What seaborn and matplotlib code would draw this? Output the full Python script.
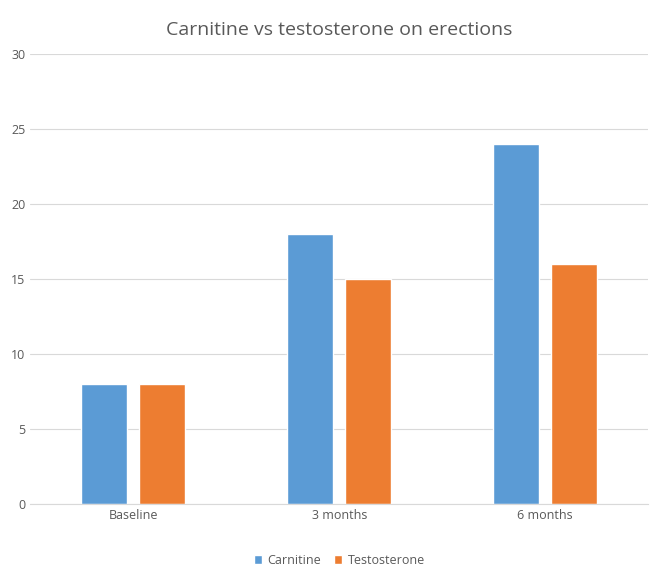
import matplotlib
matplotlib.use("Agg")
import matplotlib.pyplot as plt
import seaborn as sns
import pandas as pd

categories = ["Baseline", "3 months", "6 months"]
carnitine = [8, 18, 24]
testosterone = [8, 15, 16]
series = ["Carnitine", "Testosterone"]
colors = ["#5B9BD5", "#ED7D31"]

df = pd.DataFrame({
    "cat": categories * 2,
    "val": carnitine + testosterone,
    "series": [series[0]] * 3 + [series[1]] * 3,
})

sns.set_style("white")
plt.rcParams['font.family'] = ['Open Sans', 'DejaVu Sans']
fig = plt.figure(figsize=(6.58, 5.71), dpi=100)
ax = fig.add_axes([0.046, 0.117, 0.939, 0.788])
sns.barplot(data=df, x="cat", y="val", hue="series", palette=colors,
            width=0.563, gap=0.207, ax=ax, saturation=1, legend=True)
ax.set_ylim(0, 30)
ax.set_yticks(range(0, 31, 5))
ax.set_xlim(-0.5, 2.5)
ax.yaxis.grid(True, color="#D9D9D9", lw=0.8)
ax.set_axisbelow(True)
for s in ["top", "right", "left"]:
    ax.spines[s].set_visible(False)
ax.spines["bottom"].set_color("#D9D9D9")
ax.tick_params(axis="both", length=0, colors="#595959", labelsize=9)
ax.set_xlabel("")
ax.set_ylabel("")
ax.set_title("Carnitine vs testosterone on erections", fontsize=14, color="#595959", pad=14)
ax.legend(loc="upper center", bbox_to_anchor=(0.5, -0.085), ncol=2, frameon=False,
          fontsize=9, labelcolor="#595959", handlelength=0.7, handleheight=0.7,
          columnspacing=1.0, handletextpad=0.4)
fig.savefig("out.png", dpi=100)
